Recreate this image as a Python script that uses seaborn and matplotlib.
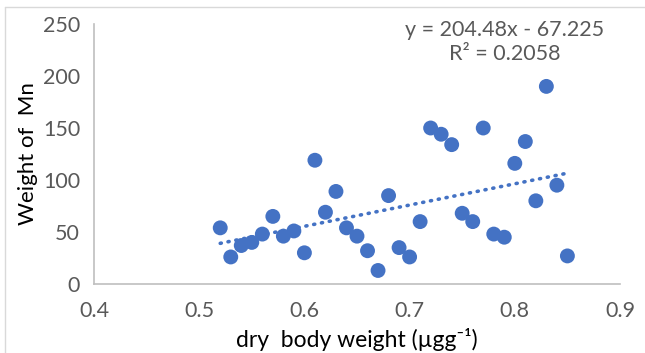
import numpy as np
import pandas as pd
import matplotlib
matplotlib.use('Agg')
import matplotlib.pyplot as plt
from matplotlib.lines import Line2D
import seaborn as sns

# values
dry_weight = [0.52, 0.53, 0.54, 0.55, 0.56, 0.57, 0.58, 0.59, 0.60, 0.61, 0.62, 0.63,
              0.64, 0.65, 0.66, 0.67, 0.68, 0.69, 0.70, 0.71, 0.72, 0.73, 0.74, 0.75,
              0.76, 0.77, 0.78, 0.79, 0.80, 0.81, 0.82, 0.83, 0.84, 0.85]
mn_weight = [54, 26, 37, 40, 48, 65, 46, 51, 30, 119, 69, 89,
             54, 46, 32, 13, 85, 35, 26, 60, 150, 144, 134, 68,
             60, 150, 48, 45, 116, 137, 80, 190, 95, 27]
trend_slope = 204.48
trend_intercept = -67.225
r_squared = 0.2058

x_ticks = [0.4, 0.5, 0.6, 0.7, 0.8, 0.9]
y_ticks = [0, 50, 100, 150, 200, 250]

blue = '#4472C4'
grey_txt = '#595959'
axis_col = '#BFBFBF'

sns.set_style('white')
plt.rcParams['font.family'] = ['Lato', 'DejaVu Sans']

df = pd.DataFrame({'dry': dry_weight, 'mn': mn_weight})

fig = plt.figure(figsize=(6.45, 3.53), dpi=100)
ax = fig.add_axes([94 / 645, 1 - 284 / 353, 526 / 645, 260 / 353])

xs = np.array([min(dry_weight), max(dry_weight)])
ax.plot(xs, trend_slope * xs + trend_intercept, color=blue, lw=2.6,
        linestyle=(0, (0.3, 1.9)), dash_capstyle='round', zorder=1)

sns.scatterplot(data=df, x='dry', y='mn', ax=ax, s=115, color=blue,
                edgecolor='none', linewidth=0, zorder=2)

ax.set_xlim(0.4, 0.9)
ax.set_ylim(0, 250)
ax.set_xticks(x_ticks)
ax.set_yticks(y_ticks)
ax.set_xticklabels([f'{t:.1f}' for t in x_ticks])
ax.set_yticklabels([str(t) for t in y_ticks])

for side in ['top', 'right']:
    ax.spines[side].set_visible(False)
for side in ['left', 'bottom']:
    ax.spines[side].set_color(axis_col)
    ax.spines[side].set_linewidth(1.2)

ax.tick_params(axis='both', colors=axis_col, labelcolor=grey_txt, labelsize=15.5,
               length=5, width=1.2, direction='out')
ax.tick_params(axis='x', pad=7)
ax.tick_params(axis='y', pad=5)

ax.set_xlabel('dry  body weight (µgg⁻¹)', fontsize=16.5, color='black')
ax.set_ylabel('Weight of  Mn', fontsize=16, color='black')
ax.xaxis.set_label_coords(0.5, -0.215)
ax.yaxis.set_label_coords(-0.125, 0.5)
ax.xaxis.label.set_va('center')
ax.yaxis.label.set_va('center')

ax.text(505 / 645, 1 - 42 / 353,
        f'y = {trend_slope:.2f}x - {abs(trend_intercept):.3f}\nR² = {r_squared:.4f}',
        transform=fig.transFigure, ha='center', va='center', fontsize=15.5,
        color=grey_txt, linespacing=1.25)

# chart area border (cropped in the reference)
fig.add_artist(Line2D([5 / 645, 5 / 645], [0, 1 - 7 / 353], transform=fig.transFigure,
                      color='#D9D9D9', lw=1))
fig.add_artist(Line2D([5 / 645, 1], [1 - 7 / 353, 1 - 7 / 353], transform=fig.transFigure,
                      color='#D9D9D9', lw=1))

fig.savefig('out.png', dpi=100)
